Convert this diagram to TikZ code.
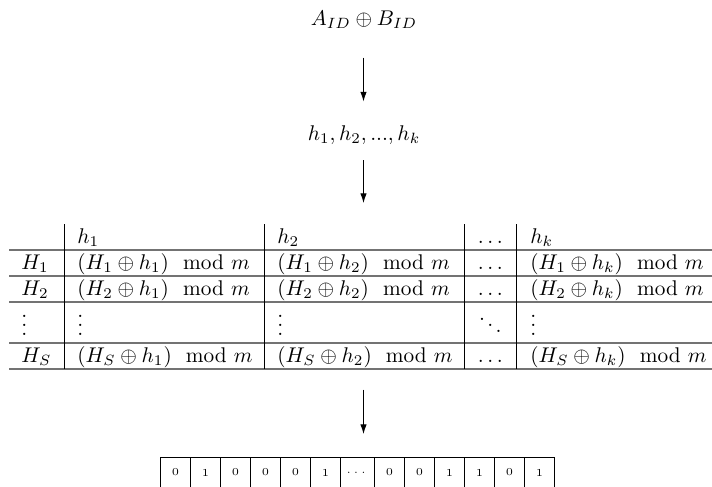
\documentclass[tikz,border=0pt]{standalone}
\usepackage{amsmath}
\usetikzlibrary{arrows.meta}
\begin{document}
\begin{tikzpicture}[x=0.47pt,y=-0.47pt,
  hrule/.style={draw=black!55,line width=0.85pt},
  vrule/.style={draw=black,line width=0.45pt},
  flow/.style={-{Latex[length=4.5pt,width=3pt]},line width=0.45pt},
  cell/.style={anchor=base west,inner sep=0pt},
  bit/.style={draw=black,line width=0.45pt,minimum height=30*0.47pt,inner sep=0pt,font=\tiny,anchor=north west},
  bitw/.style={bit,minimum width=30*0.47pt},
]
\useasboundingbox (0,0) rectangle (712,486);
% top flow
\node (ab) at (364,20) {$A_{ID}\oplus B_{ID}$};
\coordinate (a1s) at (363.5,57.5);
\coordinate (a1e) at (363.5,101.5);
\draw[flow] (a1s) -- (a1e);
\node (hs) at (364,135) {$h_1, h_2, ..., h_k$};
\coordinate (a2s) at (363.5,160);
\coordinate (a2e) at (363.5,203);
\draw[flow] (a2s) -- (a2e);
% table rules
\foreach \yy in {250,275.7,302,342.7,369}
  \draw[hrule] (9,\yy) -- (712,\yy);
\foreach \xx in {64,264.3,464.3,516.7}
  \draw[vrule] (\xx,224) -- (\xx,369);
% header
\node[cell] (c02) at (77,243.5) {$h_1$};
\node[cell] (c03) at (277,243.5) {$h_2$};
\node[cell] (c04) at (477.5,243.5) {$\dots$};
\node[cell] (c05) at (530,243.5) {$h_k$};
% row H1
\node[cell] (c11) at (21,269.7) {$H_1$};
\node[cell] (c12) at (77,269.7) {$(H_1\oplus h_1) \mod m$};
\node[cell] (c13) at (277,269.7) {$(H_1\oplus h_2) \mod m$};
\node[cell] (c14) at (477.5,269.7) {$\dots$};
\node[cell] (c15) at (530,269.7) {$(H_1\oplus h_k) \mod m$};
% row H2
\node[cell] (c21) at (21,295.5) {$H_2$};
\node[cell] (c22) at (77,295.5) {$(H_2\oplus h_1) \mod m$};
\node[cell] (c23) at (277,295.5) {$(H_2\oplus h_2) \mod m$};
\node[cell] (c24) at (477.5,295.5) {$\dots$};
\node[cell] (c25) at (530,295.5) {$(H_2\oplus h_k) \mod m$};
% dots row
\node[cell] (c31) at (21,335) {\smash{$\vdots$}};
\node[cell] (c32) at (77,335) {\smash{$\vdots$}};
\node[cell] (c33) at (277,335) {\smash{$\vdots$}};
\node[cell] (c34) at (477.5,335) {\smash{$\ddots$}};
\node[cell] (c35) at (530,335) {\smash{$\vdots$}};
% row HS
\node[cell] (c41) at (21,362) {$H_S$};
\node[cell] (c42) at (77,362) {$(H_S\oplus h_1) \mod m$};
\node[cell] (c43) at (277,362) {$(H_S\oplus h_2) \mod m$};
\node[cell] (c44) at (477.5,362) {$\dots$};
\node[cell] (c45) at (530,362) {$(H_S\oplus h_k) \mod m$};
% bottom arrow
\coordinate (a3s) at (363.5,389.5);
\coordinate (a3e) at (363.5,434);
\draw[flow] (a3s) -- (a3e);
% bit array
\node[bitw] (b1) at (160,457) {0};
\node[bitw] (b2) at (190,457) {1};
\node[bitw] (b3) at (220,457) {0};
\node[bitw] (b4) at (250,457) {0};
\node[bitw] (b5) at (280,457) {0};
\node[bitw] (b6) at (310,457) {1};
\node[bit,minimum width=34*0.47pt] (b7) at (340,457) {$\cdots$};
\node[bitw] (b8) at (374,457) {0};
\node[bitw] (b9) at (404,457) {0};
\node[bitw] (b10) at (434,457) {1};
\node[bitw] (b11) at (464,457) {1};
\node[bitw] (b12) at (494,457) {0};
\node[bitw] (b13) at (524,457) {1};
\end{tikzpicture}
\end{document}
